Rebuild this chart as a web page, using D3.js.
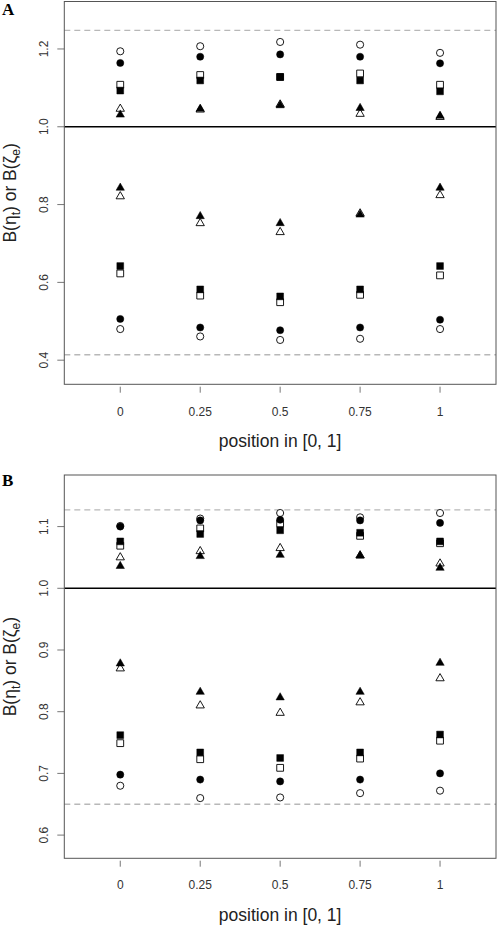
<!DOCTYPE html>
<html><head><meta charset="utf-8">
<script src="https://cdn.jsdelivr.net/npm/d3@7"></script>
<style>body{margin:0;background:#fff}svg{display:block}</style>
</head><body>
<script>
// ---- data ----
const positions = [0, 0.25, 0.5, 0.75, 1];
const xTickLabels = ["0", "0.25", "0.5", "0.75", "1"];

const aYTicks = [0.4, 0.6, 0.8, 1.0, 1.2];
const aYTickLabels = ["0.4", "0.6", "0.8", "1.0", "1.2"];
const aRefLines = [0.414, 1.248];
const aOpenCircleHi   = [1.194, 1.207, 1.218, 1.211, 1.190];
const aFilledCircleHi = [1.164, 1.180, 1.186, 1.180, 1.163];
const aOpenSquareHi   = [1.108, 1.133, 1.128, 1.137, 1.108];
const aFilledSquareHi = [1.093, 1.119, 1.128, 1.119, 1.091];
const aOpenTriHi      = [1.046, 1.044, 1.057, 1.033, 1.025];
const aFilledTriHi    = [1.031, 1.046, 1.055, 1.048, 1.028];
const aOpenTriLo      = [0.821, 0.752, 0.729, 0.777, 0.824];
const aFilledTriLo    = [0.843, 0.770, 0.752, 0.774, 0.843];
const aOpenSquareLo   = [0.623, 0.566, 0.549, 0.568, 0.618];
const aFilledSquareLo = [0.642, 0.582, 0.564, 0.582, 0.642];
const aOpenCircleLo   = [0.480, 0.461, 0.452, 0.455, 0.480];
const aFilledCircleLo = [0.506, 0.484, 0.477, 0.484, 0.504];

const bYTicks = [0.6, 0.7, 0.8, 0.9, 1.0, 1.1];
const bYTickLabels = ["0.6", "0.7", "0.8", "0.9", "1.0", "1.1"];
const bRefLines = [0.650, 1.127];
const bOpenCircleHi   = [1.101, 1.113, 1.122, 1.115, 1.122];
const bFilledCircleHi = [1.100, 1.110, 1.111, 1.110, 1.106];
const bOpenSquareHi   = [1.069, 1.097, 1.105, 1.085, 1.073];
const bFilledSquareHi = [1.076, 1.088, 1.094, 1.090, 1.076];
const bOpenTriHi      = [1.050, 1.060, 1.065, 1.053, 1.040];
const bFilledTriHi    = [1.036, 1.052, 1.054, 1.053, 1.033];
const bOpenTriLo      = [0.870, 0.810, 0.798, 0.815, 0.854];
const bFilledTriLo    = [0.878, 0.832, 0.823, 0.832, 0.879];
const bOpenSquareLo   = [0.749, 0.723, 0.709, 0.724, 0.753];
const bFilledSquareLo = [0.762, 0.734, 0.725, 0.734, 0.763];
const bOpenCircleLo   = [0.680, 0.660, 0.661, 0.668, 0.672];
const bFilledCircleLo = [0.698, 0.690, 0.687, 0.690, 0.700];

// ---- layout ----
const W = 498, H = 925;
const svg = d3.select("body").append("svg").attr("width", W).attr("height", H);
const FONT = "'Liberation Sans', Arial, Helvetica, sans-serif";

const panels = [
  { label: "A", labelY: 15, top: 1.5, bottom: 384.3, domain: [0.338, 1.322],
    yTicks: aYTicks, yTickLabels: aYTickLabels, refs: aRefLines, xLabelY: 416, xTitleY: 447,
    series: [
      [aOpenCircleHi, "circle", false], [aOpenCircleLo, "circle", false],
      [aOpenSquareHi, "square", false], [aOpenSquareLo, "square", false],
      [aOpenTriHi, "triangle", false], [aOpenTriLo, "triangle", false],
      [aFilledCircleHi, "circle", true], [aFilledCircleLo, "circle", true],
      [aFilledSquareHi, "square", true], [aFilledSquareLo, "square", true],
      [aFilledTriHi, "triangle", true], [aFilledTriLo, "triangle", true]
    ]},
  { label: "B", labelY: 486, top: 475, bottom: 858.3, domain: [0.5624, 1.1836],
    yTicks: bYTicks, yTickLabels: bYTickLabels, refs: bRefLines, xLabelY: 889, xTitleY: 921,
    series: [
      [bOpenCircleHi, "circle", false], [bOpenCircleLo, "circle", false],
      [bOpenSquareHi, "square", false], [bOpenSquareLo, "square", false],
      [bOpenTriHi, "triangle", false], [bOpenTriLo, "triangle", false],
      [bFilledCircleHi, "circle", true], [bFilledCircleLo, "circle", true],
      [bFilledSquareHi, "square", true], [bFilledSquareLo, "square", true],
      [bFilledTriHi, "triangle", true], [bFilledTriLo, "triangle", true]
    ]}
];

const left = 64.3, right = 496;
const x = d3.scaleLinear().domain([-0.175, 1.175]).range([left, right]);

const symbolSize = { circle: 40, square: 46, triangle: 30 };
const symType = { circle: d3.symbolCircle, square: d3.symbolSquare, triangle: d3.symbolTriangle };

panels.forEach(p => {
  const y = d3.scaleLinear().domain(p.domain).range([p.bottom, p.top]);
  const g = svg.append("g");

  // panel letter
  g.append("text").attr("x", 2).attr("y", p.labelY)
    .attr("font-family", "'Liberation Serif', 'Times New Roman', serif")
    .attr("font-weight", "bold").attr("font-size", 17).text(p.label);

  // reference lines
  g.selectAll("line.ref").data(p.refs).join("line")
    .attr("x1", left).attr("x2", right)
    .attr("y1", d => y(d)).attr("y2", d => y(d))
    .attr("stroke", "#b8b8b8").attr("stroke-width", 1.3).attr("stroke-dasharray", "6,4");

  g.append("line").attr("x1", left).attr("x2", right)
    .attr("y1", y(1)).attr("y2", y(1)).attr("stroke", "#000").attr("stroke-width", 1.5);

  // y axis
  g.selectAll("line.yt").data(p.yTicks).join("line")
    .attr("x1", left - 7).attr("x2", left).attr("y1", d => y(d)).attr("y2", d => y(d))
    .attr("stroke", "#777");
  g.selectAll("text.yt").data(p.yTicks).join("text")
    .attr("transform", d => `translate(48.3,${y(d)}) rotate(-90)`)
    .attr("text-anchor", "middle").attr("font-family", FONT).attr("font-size", 12)
    .attr("fill", "#333").text((d, i) => p.yTickLabels[i]);

  // x axis
  g.selectAll("line.xt").data(positions).join("line")
    .attr("x1", d => x(d)).attr("x2", d => x(d))
    .attr("y1", p.bottom + 2.4).attr("y2", p.bottom + 8.4).attr("stroke", "#777");
  g.selectAll("text.xt").data(positions).join("text")
    .attr("x", d => x(d)).attr("y", p.xLabelY).attr("text-anchor", "middle")
    .attr("font-family", FONT).attr("font-size", 12).attr("fill", "#333")
    .text((d, i) => xTickLabels[i]);

  g.append("text").attr("x", (left + right) / 2).attr("y", p.xTitleY)
    .attr("text-anchor", "middle").attr("font-family", FONT).attr("font-size", 17.5)
    .attr("fill", "#222").text("position in [0, 1]");

  // y title
  const yt = g.append("text")
    .attr("transform", `translate(16,${(p.top + p.bottom) / 2}) rotate(-90)`)
    .attr("text-anchor", "middle").attr("font-family", FONT).attr("font-size", 17.5).attr("fill", "#222");
  yt.append("tspan").text("B(η");
  yt.append("tspan").attr("font-size", 12).attr("dy", 4).text("t");
  yt.append("tspan").attr("dy", -4).text(")  or  B(ζ");
  yt.append("tspan").attr("font-size", 12).attr("dy", 4).text("e");
  yt.append("tspan").attr("dy", -4).text(")");

  // points
  p.series.forEach(([vals, shape, filled]) => {
    const sym = d3.symbol().type(symType[shape]).size(symbolSize[shape]);
    g.append("g").selectAll("path").data(vals).join("path")
      .attr("transform", (d, i) => `translate(${x(positions[i])},${y(d)})`)
      .attr("d", sym())
      .attr("fill", filled ? "#000" : "#fff")
      .attr("stroke", "#000").attr("stroke-width", filled ? 0.5 : 0.9);
  });

  // frame
  g.append("rect").attr("x", left).attr("y", p.top).attr("width", right - left)
    .attr("height", p.bottom - p.top).attr("fill", "none").attr("stroke", "#555").attr("stroke-width", 1);
});
</script>
</body></html>
